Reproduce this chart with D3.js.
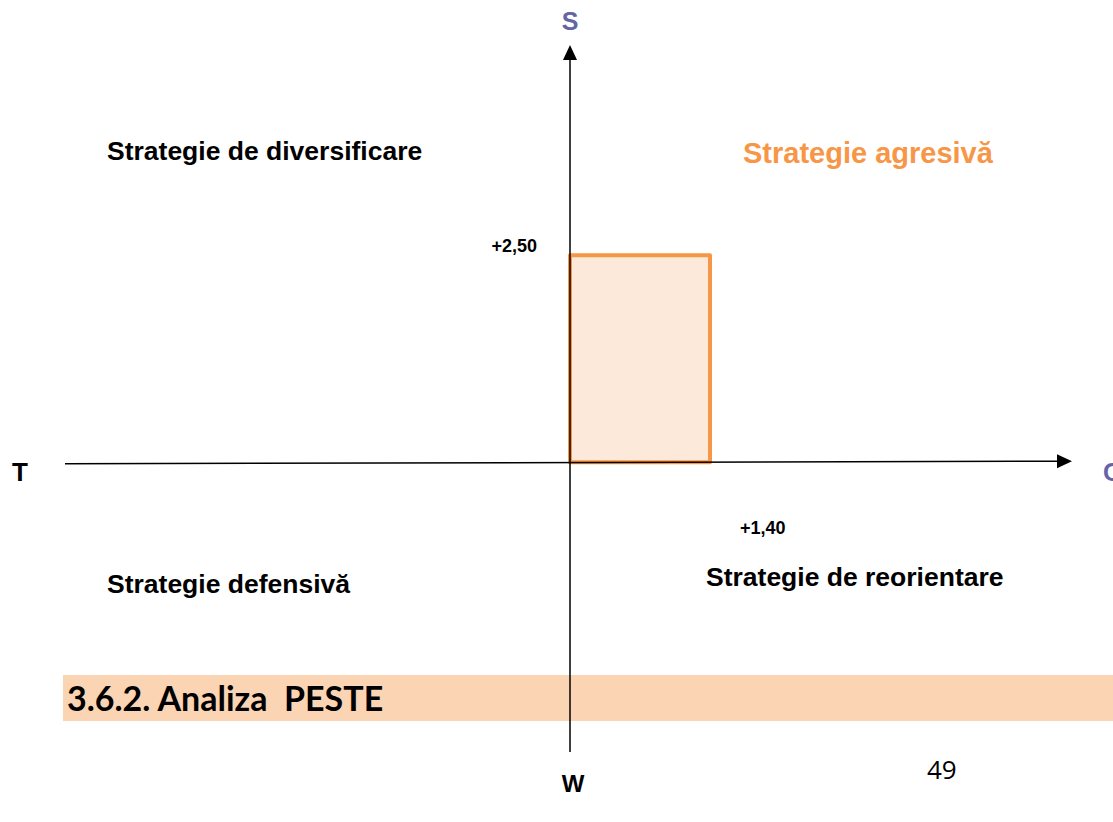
<!DOCTYPE html>
<html>
<head>
<meta charset="utf-8">
<script src="https://cdn.jsdelivr.net/npm/d3@7"></script>
<style>
  html, body { margin: 0; padding: 0; background: #fff; overflow: hidden; }
</style>
</head>
<body>
<div id="chart"></div>
<script>
// position of the company on the SWOT axes
const axisNames = ['S', 'O', 'W', 'T'];
const sValue = 2.50, oValue = 1.40;
const valueLabels = ['+2,50', '+1,40'];
const quadrants = ['Strategie agresivă', 'Strategie de diversificare', 'Strategie defensivă', 'Strategie de reorientare'];
const heading = '3.6.2. Analiza  PESTE';
const pageNumber = '49';

const width = 1113, height = 822;

const svg = d3.select('#chart').append('svg')
    .attr('width', width)
    .attr('height', height);

const x = d3.scaleLinear().domain([-5.05, 5.02]).range([65, 1072]);
const y = d3.scaleLinear().domain([-3.5, 5.04]).range([752, 45]);

const font = '"Liberation Sans", Arial, sans-serif';

// heading band (drawn under the axis)
svg.append('rect')
    .attr('x', 63).attr('y', 675)
    .attr('width', width - 63).attr('height', 46)
    .attr('fill', '#FBD4B4');
svg.append('text')
    .attr('x', 67).attr('y', 711)
    .attr('font-family', 'Lato, "Open Sans", sans-serif')
    .attr('font-weight', 'bold')
    .attr('font-size', 34)
    .attr('fill', '#000')
    .style('white-space', 'pre')
    .text(heading);

// rectangle
svg.append('rect')
    .attr('x', x(0))
    .attr('y', y(sValue))
    .attr('width', x(oValue) - x(0))
    .attr('height', y(0) - y(sValue))
    .attr('fill', '#FCE9DA')
    .attr('stroke', '#F79646')
    .attr('stroke-width', 4)
    .attr('stroke-linejoin', 'round');

// axes
svg.append('line')
    .attr('x1', x(-5.05)).attr('y1', y(0) + 1.5)
    .attr('x2', x(4.88)).attr('y2', y(0) - 1)
    .attr('stroke', '#000').attr('stroke-width', 1.5);
svg.append('path')
    .attr('d', `M${x(5.02)},${y(0) - 1} l-15,-7 l0,14 z`)
    .attr('fill', '#000');

svg.append('line')
    .attr('x1', x(0)).attr('y1', y(-3.5))
    .attr('x2', x(0)).attr('y2', y(4.88))
    .attr('stroke', '#000').attr('stroke-width', 1.5);
svg.append('path')
    .attr('d', `M${x(0)},${y(5.04)} l-7,15 l14,0 z`)
    .attr('fill', '#000');

// axis names
const purple = '#6565A6';
const axisText = [
    { t: axisNames[0], x: 570, y: 30, s: 25, c: purple, a: 'middle' },
    { t: axisNames[1], x: 1103, y: 481, s: 25, c: purple, a: 'start' },
    { t: axisNames[2], x: 573, y: 792, s: 24, c: '#000', a: 'middle' },
    { t: axisNames[3], x: 20, y: 481, s: 26, c: '#000', a: 'middle' }
];
svg.selectAll('.axname')
    .data(axisText)
    .enter().append('text')
    .attr('class', 'axname')
    .attr('x', d => d.x).attr('y', d => d.y)
    .attr('text-anchor', d => d.a)
    .attr('font-family', font)
    .attr('font-weight', 'bold')
    .attr('font-size', d => d.s)
    .attr('fill', d => d.c)
    .text(d => d.t);

// value labels
svg.append('text')
    .attr('x', 537).attr('y', 252)
    .attr('text-anchor', 'end')
    .attr('font-family', font).attr('font-weight', 'bold').attr('font-size', 18)
    .text(valueLabels[0]);
svg.append('text')
    .attr('x', 740).attr('y', 534)
    .attr('font-family', font).attr('font-weight', 'bold').attr('font-size', 18)
    .text(valueLabels[1]);

// quadrant labels
const quadText = [
    { t: quadrants[0], x: 743, y: 163, s: 29, c: '#F79646' },
    { t: quadrants[1], x: 107, y: 160, s: 26.5, c: '#000' },
    { t: quadrants[2], x: 107, y: 593, s: 26.5, c: '#000' },
    { t: quadrants[3], x: 706, y: 586, s: 26.5, c: '#000' }
];
svg.selectAll('.quad')
    .data(quadText)
    .enter().append('text')
    .attr('class', 'quad')
    .attr('x', d => d.x).attr('y', d => d.y)
    .attr('font-family', font)
    .attr('font-weight', 'bold')
    .attr('font-size', d => d.s)
    .attr('fill', d => d.c)
    .text(d => d.t);

// page number
svg.append('text')
    .attr('x', 927).attr('y', 779)
    .attr('font-family', '"Open Sans", Lato, sans-serif')
    .attr('font-size', 26)
    .attr('fill', '#000')
    .text(pageNumber);
</script>
</body>
</html>
